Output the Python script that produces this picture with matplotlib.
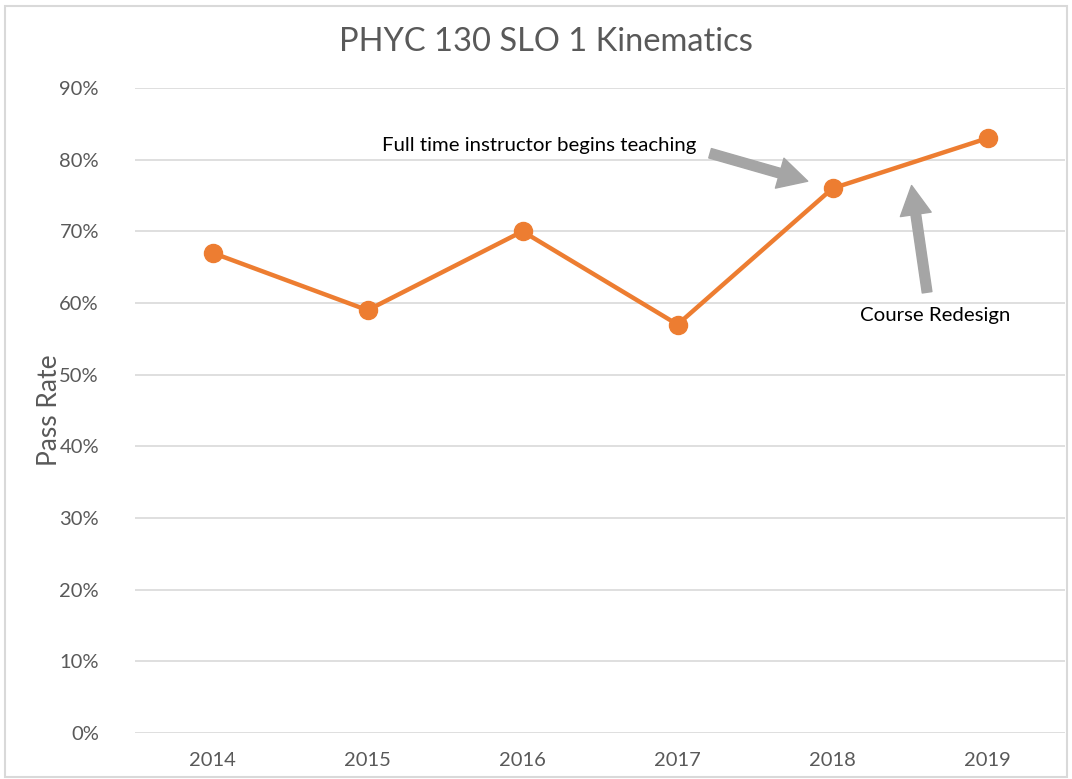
import matplotlib.pyplot as plt
from matplotlib.patches import Rectangle

years = ["2014", "2015", "2016", "2017", "2018", "2019"]
pass_rate = [67, 59, 70, 57, 76, 83]
y_ticks = [0, 10, 20, 30, 40, 50, 60, 70, 80, 90]

plt.rcParams['font.family'] = ['Lato', 'DejaVu Sans']

orange = '#ED7D31'
grey_text = '#595959'
arrow_grey = '#A5A5A5'

fig = plt.figure(figsize=(10.72, 7.79), dpi=100)
ax = fig.add_axes([0.126, 0.059, 0.8675, 0.828])

x = range(len(years))
ax.plot(x, pass_rate, color=orange, lw=3.2, marker='o', ms=13, zorder=3)

ax.set_xlim(-0.5, len(years) - 0.5)
ax.set_ylim(0, 90)
ax.set_xticks(list(x))
ax.set_xticklabels(years)
ax.set_yticks(y_ticks)
ax.set_yticklabels([f"{v}%" for v in y_ticks])
ax.tick_params(axis='both', length=0, colors=grey_text, labelsize=14.5)
ax.tick_params(axis='x', pad=14)
ax.tick_params(axis='y', pad=26)
ax.grid(axis='y', color='#D9D9D9', lw=1.2)
ax.set_axisbelow(True)
for s in ax.spines.values():
    s.set_visible(False)

ax.set_ylabel("Pass Rate", color=grey_text, fontsize=19)
ax.yaxis.set_label_coords(-0.0785, 0.5)
fig.text(0.509, 0.946, "PHYC 130 SLO 1 Kinematics", color=grey_text, fontsize=23.5,
         ha='center', va='center')

arrow = dict(arrowstyle='simple,head_width=1.6,head_length=1.5,tail_width=0.5',
             color=arrow_grey, shrinkA=0, shrinkB=0, mutation_scale=14)
ax.text(2.11, 82.0, "Full time instructor begins teaching", fontsize=14.7,
        ha='center', va='center', color='black')
ax.annotate("", xy=(3.84, 77.0), xytext=(3.21, 80.9), arrowprops=arrow)
ax.text(4.66, 58.3, "Course Redesign", fontsize=14.7, ha='center', va='center',
        color='black')
ax.annotate("", xy=(4.51, 76.4), xytext=(4.61, 61.5), arrowprops=arrow)

fig.patches.append(Rectangle((0.005, 0.003), 0.99, 0.989, transform=fig.transFigure,
                             fill=False, edgecolor='#D9D9D9', lw=1.5))

fig.savefig("out.png", dpi=100)
